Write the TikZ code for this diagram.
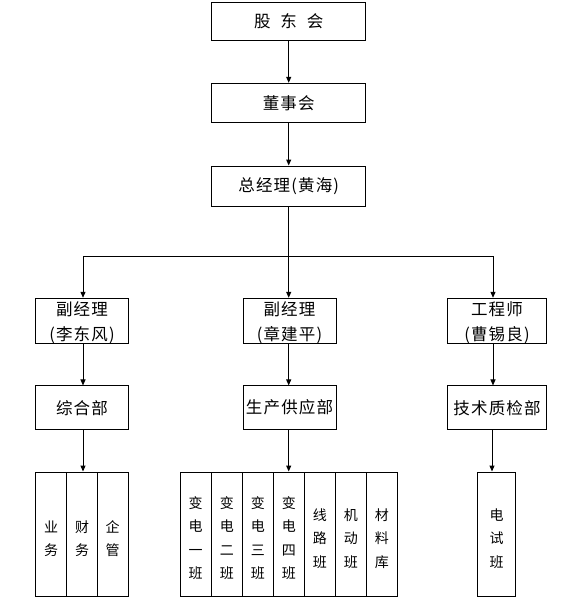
\documentclass[tikz,border=0pt]{standalone}
\usepackage{fontspec}
\setmainfont{Noto Sans CJK SC}
\usetikzlibrary{arrows.meta}
\begin{document}
\begin{tikzpicture}[x=1pt,y=-1pt,
  box/.style={draw,line width=1pt,inner sep=0pt,align=center,font=\fontsize{16.5}{25}\selectfont\addfontfeature{LetterSpace=7}},
  boxtext/.style={inner sep=0pt,align=center,font=\fontsize{16.5}{25}\selectfont\addfontfeature{LetterSpace=7}},
  col/.style={draw,line width=1pt,inner sep=0pt,minimum height=124pt},
  coltext/.style={inner sep=0pt,align=center,font=\fontsize{14}{23.5}\selectfont},
  ln/.style={line width=1pt},
  arr/.style={line width=1pt,-{Triangle[length=6pt,width=5pt]}}]
\useasboundingbox (0,0) rectangle (571,600);
% top chain
\node[box,minimum width=154pt,minimum height=37.5pt] (gdh) at (288.7,21.3) {股\hspace{0.6em}东\hspace{0.6em}会};
\node[box,minimum width=154pt,minimum height=39pt] (dsh) at (288.7,102.8) {董事会};
\node[box,minimum width=154pt,minimum height=40pt] (zjl) at (288.7,186) {总经理(黄海)};
\draw[arr] (gdh) -- (dsh);
\draw[arr] (dsh) -- (zjl);
% bus
\coordinate (busL) at (83,256);
\coordinate (busR) at (493,256);
\draw[ln] (zjl.south) -- (zjl.south |- busL);
\draw[ln] (busL) -- (busR);
% row 1
\node[box,minimum width=93pt,minimum height=45pt] (f1) at (82,320.8) {};
\node[box,minimum width=93pt,minimum height=45pt] (f2) at (289.5,320.8) {};
\node[box,minimum width=99pt,minimum height=45pt] (f3) at (497,320.8) {};
\node[boxtext] (f1t) at (82,323) {副经理\\(李东风)};
\node[boxtext] (f2t) at (289.5,323) {副经理\\(章建平)};
\node[boxtext] (f3t) at (497,323) {工程师\\(曹锡良)};
\draw[arr] (busL) -- (busL |- f1.north);
\draw[arr] (zjl.south |- busL) -- (zjl.south |- f2.north);
\draw[arr] (busR) -- (busR |- f3.north);
% row 2
\node[box,minimum width=93pt,minimum height=43.5pt] (d1) at (82,407.7) {综合部};
\node[box,minimum width=93pt,minimum height=43.5pt] (d2) at (289.5,407.7) {生产供应部};
\node[box,minimum width=99pt,minimum height=43.5pt] (d3) at (497,407.7) {技术质检部};
\draw[arr] (busL |- f1.south) -- (busL |- d1.north);
\draw[arr] (zjl.south |- f2.south) -- (zjl.south |- d2.north);
\draw[arr] (busR |- f3.south) -- (busR |- d3.north);
% bottom left group
\node[col,minimum width=31pt] (a1) at (51.2,534) {};
\node[col,minimum width=30.6pt] (a2) at (82,534) {};
\node[col,minimum width=30.7pt] (a3) at (112.7,534) {};
\node[coltext] (a1t) at (51.2,538.5) {业\\务};
\node[coltext] (a2t) at (82,538.5) {财\\务};
\node[coltext] (a3t) at (112.7,538.5) {企\\管};
% bottom middle group
\node[col,minimum width=31.3pt] (b1) at (195.65,534) {};
\node[col,minimum width=31pt] (b2) at (226.8,534) {};
\node[col,minimum width=31pt] (b3) at (257.8,534) {};
\node[col,minimum width=31pt] (b4) at (288.8,534) {};
\node[col,minimum width=31pt] (b5) at (319.8,534) {};
\node[col,minimum width=31pt] (b6) at (350.8,534) {};
\node[col,minimum width=31pt] (b7) at (381.8,534) {};
\node[coltext] (b1t) at (195.65,538) {变\\电\\一\\班};
\node[coltext] (b2t) at (226.8,538) {变\\电\\二\\班};
\node[coltext] (b3t) at (257.8,538) {变\\电\\三\\班};
\node[coltext] (b4t) at (288.8,538) {变\\电\\四\\班};
\node[coltext] (b5t) at (319.8,538.5) {线\\路\\班};
\node[coltext] (b6t) at (350.8,538.5) {机\\动\\班};
\node[coltext] (b7t) at (381.8,538.5) {材\\料\\库};
% bottom right
\node[col,minimum width=37.6pt] (c1) at (496.5,534) {};
\node[coltext] (c1t) at (496.5,538.5) {电\\试\\班};
\draw[arr] (busL |- d1.south) -- (busL |- a2.north);
\draw[arr] (zjl.south |- d2.south) -- (zjl.south |- b4.north);
\draw[arr] ([xshift=-1pt]busR |- d3.south) -- ([xshift=-1pt]busR |- c1.north);
\end{tikzpicture}
\end{document}
